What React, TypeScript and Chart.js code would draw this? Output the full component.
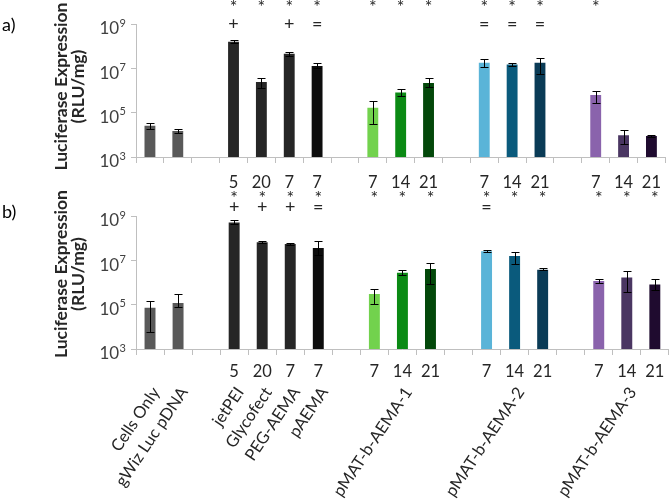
import React, { useEffect, useRef } from 'react';
import { Chart, registerables } from 'chart.js';

Chart.register(...registerables);

const FONT = 'Lato, "Open Sans", sans-serif';
const TEXT = '#262626';
const AXIS = '#bfbfbf';

// ---- data ----
const ratioLabels = ['', '', '', '5', '20', '7', '7', '', '7', '14', '21', '', '7', '14', '21', '', '7', '14', '21'];
const nameLabels = ['Cells Only', 'gWiz Luc pDNA', '', 'jetPEI', 'Glycofect', 'PEG-AEMA', 'pAEMA', '', '', 'pMAT-b-AEMA-1', '', '', '', 'pMAT-b-AEMA-2', '', '', '', 'pMAT-b-AEMA-3', ''];

const barColors = ['#595959', '#595959', '#000000', '#262626', '#262626', '#262626', '#0d0d0d', '#000000', '#72d24d', '#0b8a14', '#03480a', '#000000', '#5ab4d8', '#0a5a7c', '#0a3b56', '#000000', '#8a63ac', '#4a3662', '#1f0b2f'];

const valuesA = [2.6e4, 1.5e4, null, 1.6e8, 2.4e6, 4.6e7, 1.27e7, null, 1.66e5, 8.1e5, 2.2e6, null, 1.8e7, 1.5e7, 1.8e7, null, 6.2e5, 9.7e3, 8.8e3];
const errHighA = [3.5e4, 1.8e4, null, 1.9e8, 3.6e6, 5.4e7, 1.7e7, null, 3.2e5, 1.18e6, 3.5e6, null, 2.6e7, 1.8e7, 3.0e7, null, 1.0e6, 1.6e4, 9.7e3];
const errLowA = [1.9e4, 1.2e4, null, 1.35e8, 1.3e6, 3.5e7, 1.0e7, null, 3.2e4, 5.5e5, 1.4e6, null, 1.15e7, 1.27e7, 5.4e6, null, 2.8e5, 3.7e3, 8.0e3];

const valuesB = [7.2e4, 1.18e5, null, 5.1e8, 6.5e7, 5.5e7, 3.6e7, null, 3.0e5, 2.75e6, 4.1e6, null, 2.6e7, 1.55e7, 3.8e6, null, 1.17e6, 1.7e6, 8.2e5];
const errHighB = [1.4e5, 2.9e5, null, 6.3e8, 7.2e7, 6.2e7, 7.2e7, null, 5.3e5, 3.5e6, 7.6e6, null, 2.9e7, 2.5e7, 4.5e6, null, 1.38e6, 3.2e6, 1.45e6];
const errLowB = [5.9e3, 8.0e4, null, 4.5e8, 5.8e7, 5.0e7, 1.8e7, null, 1.07e5, 2.2e6, 8.2e5, null, 2.4e7, 6.6e6, 3.5e6, null, 9.8e5, 3.7e5, 4.7e5];

const starsA = ['', '', '', '*', '*', '*', '*', '', '*', '*', '*', '', '*', '*', '*', '', '*', '', ''];
const marksA = ['', '', '', '+', '', '+', '=', '', '', '', '', '', '=', '=', '=', '', '', '', ''];
const starsB = ['', '', '', '*', '*', '*', '*', '', '*', '*', '*', '', '*', '*', '*', '', '*', '*', '*'];
const marksB = ['', '', '', '+', '+', '+', '=', '', '', '', '', '', '=', '', '', '', '', '', ''];

const decadeTicks = [1e3, 1e5, 1e7, 1e9];
const yTitle = ['Luciferase Expression', '(RLU/mg)'];

type Spec = {
  letter: string;
  values: (number | null)[];
  errHigh: (number | null)[];
  errLow: (number | null)[];
  rows: { y: number; marks: string[] }[];
  letterY: number;
  titleY: number;
  padTop: number;
  padBottom: number;
  xHeight: number;
  xPad: number;
  withNames: boolean;
  namesY: number;
};

function decoPlugin(spec: Spec) {
  return {
    id: 'deco',
    afterDatasetsDraw(chart: any) {
      const { ctx } = chart;
      const xs = chart.scales.x;
      const ys = chart.scales.y;
      ctx.save();
      ctx.strokeStyle = '#000';
      ctx.lineWidth = 1;
      spec.values.forEach((v, i) => {
        if (v == null) return;
        const x = Math.round(xs.getPixelForValue(i)) + 0.5;
        const yh = Math.round(ys.getPixelForValue(spec.errHigh[i] as number)) + 0.5;
        const yl = Math.round(ys.getPixelForValue(spec.errLow[i] as number)) + 0.5;
        ctx.beginPath();
        ctx.moveTo(x, yh);
        ctx.lineTo(x, yl);
        ctx.moveTo(x - 4, yh);
        ctx.lineTo(x + 4, yh);
        ctx.moveTo(x - 4, yl);
        ctx.lineTo(x + 4, yl);
        ctx.stroke();
      });
      ctx.restore();
    },
    afterDraw(chart: any) {
      const { ctx } = chart;
      const xs = chart.scales.x;
      const ys = chart.scales.y;
      ctx.save();
      // y tick labels 10^n
      ys.ticks.forEach((t: any) => {
        const py = ys.getPixelForValue(t.value);
        const exp = String(Math.round(Math.log10(t.value)));
        const right = 126;
        ctx.fillStyle = '#404040';
        ctx.textBaseline = 'middle';
        ctx.textAlign = 'right';
        ctx.font = `11px ${FONT}`;
        ctx.fillText(exp, right, py - 1);
        const ew = ctx.measureText(exp).width;
        ctx.font = `17px ${FONT}`;
        ctx.fillText('10', right - ew - 0.5, py + 5);
      });
      // y axis title (two lines, rotated)
      ctx.save();
      ctx.fillStyle = TEXT;
      ctx.font = `bold 17.5px ${FONT}`;
      ctx.textAlign = 'center';
      ctx.textBaseline = 'middle';
      ctx.translate(61, spec.titleY);
      ctx.rotate(-Math.PI / 2);
      ctx.fillText(yTitle[0], 0, 0);
      ctx.fillText(yTitle[1], 0, 17);
      ctx.restore();
      // significance symbols
      ctx.fillStyle = TEXT;
      ctx.textAlign = 'center';
      ctx.textBaseline = 'middle';
      ctx.font = `18px ${FONT}`;
      spec.rows.forEach((row) => {
        row.marks.forEach((m, i) => {
          if (!m) return;
          const x = xs.getPixelForValue(i);
          ctx.fillText(m, x, row.y + (m === '*' ? 3 : 0));
        });
      });
      // category names, rotated
      if (spec.withNames) {
        ctx.font = `16.5px ${FONT}`;
        ctx.fillStyle = TEXT;
        ctx.textAlign = 'right';
        ctx.textBaseline = 'middle';
        const ang = (-56 * Math.PI) / 180;
        nameLabels.forEach((name, i) => {
          if (!name) return;
          const x = xs.getPixelForValue(i);
          ctx.save();
          ctx.translate(x + 6, spec.namesY);
          ctx.rotate(ang);
          ctx.fillText(name, 0, 0);
          ctx.restore();
        });
      }
      // panel letter
      ctx.fillStyle = '#000';
      ctx.textAlign = 'left';
      ctx.textBaseline = 'middle';
      ctx.font = `18px ${FONT}`;
      ctx.fillText(spec.letter, 2, spec.letterY);
      ctx.restore();
    },
  };
}

function makeConfig(spec: Spec): any {
  return {
    type: 'bar',
    data: {
      labels: ratioLabels,
      datasets: [
        {
          data: spec.values,
          backgroundColor: barColors,
          borderWidth: 0,
          barPercentage: 0.39,
          categoryPercentage: 1,
        },
      ],
    },
    options: {
      responsive: false,
      animation: false,
      devicePixelRatio: 1,
      layout: { padding: { top: spec.padTop, left: 0, right: 0, bottom: spec.padBottom } },
      plugins: { legend: { display: false }, tooltip: { enabled: false } },
      scales: {
        x: {
          type: 'category',
          position: 'bottom',
          offset: true,
          grid: { display: true, drawOnChartArea: false, drawTicks: true, tickLength: 6, color: AXIS, offset: true },
          border: { display: true, color: AXIS },
          ticks: { autoSkip: false, minRotation: 0, maxRotation: 0, padding: spec.xPad, color: TEXT, font: { family: FONT, size: 16.5 } },
          afterFit: (s: any) => { s.height = spec.xHeight; },
        },
        y: {
          type: 'logarithmic',
          min: 1e3,
          max: 1e9,
          afterBuildTicks: (s: any) => { s.ticks = decadeTicks.map((value) => ({ value })); },
          afterFit: (s: any) => { s.width = 136; },
          grid: { display: true, drawOnChartArea: false, drawTicks: true, tickLength: 5, color: AXIS },
          border: { display: true, color: AXIS },
          ticks: { callback: () => '', padding: 0 },
        },
      },
    },
    plugins: [decoPlugin(spec)],
  };
}

const specA: Spec = {
  letter: 'a)',
  values: valuesA,
  errHigh: errHighA,
  errLow: errLowA,
  rows: [
    { y: 4, marks: starsA },
    { y: 24, marks: marksA },
  ],
  letterY: 25,
  titleY: 86.5,
  padTop: 24,
  padBottom: 0,
  xHeight: 33,
  xPad: 10,
  withNames: false,
  namesY: 0,
};

const specB: Spec = {
  letter: 'b)',
  values: valuesB,
  errHigh: errHighB,
  errLow: errLowB,
  rows: [
    { y: 5, marks: starsB },
    { y: 17.5, marks: marksB },
  ],
  letterY: 22.5,
  titleY: 84,
  padTop: 26,
  padBottom: 116,
  xHeight: 38,
  xPad: 6.6,
  withNames: true,
  namesY: 199,
};

function Panel({ spec, top, height }: { spec: Spec; top: number; height: number }) {
  const ref = useRef<HTMLCanvasElement>(null);
  useEffect(() => {
    const chart = new Chart(ref.current as HTMLCanvasElement, makeConfig(spec));
    return () => chart.destroy();
  }, []);
  return (
    <canvas
      ref={ref}
      width={671}
      height={height}
      style={{ position: 'absolute', left: 0, top, width: 671, height, display: 'block' }}
    />
  );
}

export default function App() {
  return (
    <div style={{ position: 'fixed', left: 0, top: 0, width: 671, height: 503, background: '#fff', overflow: 'hidden' }}>
      <Panel spec={specA} top={0} height={190} />
      <Panel spec={specB} top={190} height={313} />
    </div>
  );
}
